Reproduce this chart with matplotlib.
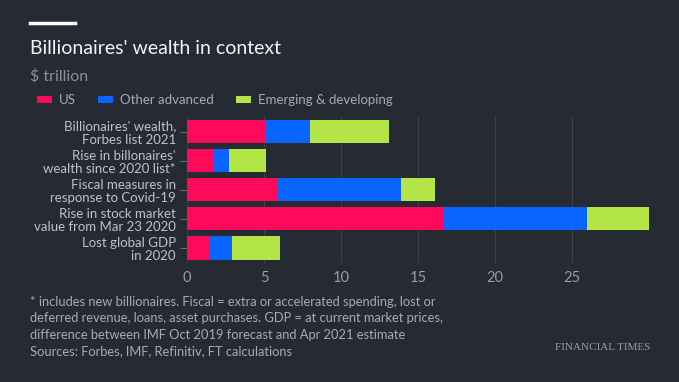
import matplotlib
matplotlib.use("Agg")
import matplotlib.pyplot as plt
import numpy as np

# data, $ trillion
categories = [
    "Billionaires' wealth,\nForbes list 2021",
    "Rise in billonaires'\nwealth since 2020 list*",
    "Fiscal measures in\nresponse to Covid-19",
    "Rise in stock market\nvalue from Mar 23 2020",
    "Lost global GDP\nin 2020",
]
us = [5.1, 1.7, 5.9, 16.7, 1.45]
other_advanced = [2.9, 1.05, 8.0, 9.3, 1.45]
emerging = [5.1, 2.4, 2.2, 4.0, 3.15]
series_names = ["US", "Other advanced", "Emerging & developing"]
xticks = [0, 5, 10, 15, 20, 25]

bg = "#262a33"
colors = ["#ff0a5a", "#0a64ff", "#b4e547"]
plt.rcParams["font.family"] = ["Lato", "DejaVu Sans"]

fig = plt.figure(figsize=(6.79, 3.82), dpi=100, facecolor=bg)
ax = fig.add_axes([187 / 679, 1 - 262.5 / 382, 462 / 679, 145.5 / 382])
ax.set_facecolor(bg)

y = np.arange(len(categories))
left = np.zeros(len(categories))
for vals, col, name in zip([us, other_advanced, emerging], colors, series_names):
    ax.barh(y, vals, left=left, height=0.8, color=col, label=name, zorder=3)
    left += np.array(vals)

ax.set_ylim(len(categories) - 0.5, -0.5)
ax.set_xlim(0, 30)
ax.set_yticks(y)
ax.set_yticklabels(categories, color="#bfc1c5", fontsize=9.5, linespacing=1.1)
ax.set_xticks(xticks)
ax.set_xticklabels([str(t) for t in xticks], color="#9a9ca1", fontsize=10.5)
ax.tick_params(axis="y", length=5, color="#6b6e75", width=0.8, pad=3)
ax.tick_params(axis="x", length=0, pad=6)
ax.grid(axis="x", color="#3d414a", linewidth=0.8, zorder=0)
for s in ax.spines.values():
    s.set_visible(False)

# header
fig.add_artist(plt.Line2D([30 / 679, 75 / 679], [1 - 23 / 382] * 2,
                          color="white", linewidth=2.5))
fig.text(30 / 679, 1 - 49 / 382, "Billionaires' wealth in context",
         color="#f4f4f4", fontsize=14, va="center")
fig.text(30 / 679, 1 - 76 / 382, "$ trillion", color="#8e9096",
         fontsize=11.5, va="center")
fig.legend(loc="center left", bbox_to_anchor=(25 / 679, 1 - 100 / 382),
           ncol=3, frameon=False, fontsize=9.5, labelcolor="#a9abb0",
           handlelength=1.15, handleheight=0.5, handletextpad=0.5,
           columnspacing=1.7)

# footer
footnote = ("* includes new billionaires. Fiscal = extra or accelerated spending, lost or\n"
            "deferred revenue, loans, asset purchases. GDP = at current market prices,\n"
            "difference between IMF Oct 2019 forecast and Apr 2021 estimate\n"
            "Sources: Forbes, IMF, Refinitiv, FT calculations")
fig.text(30 / 679, 1 - 296 / 382, footnote, color="#a9abb0", fontsize=9.3,
         va="top", linespacing=1.45)
fig.text(650 / 679, 1 - 347 / 382, "FINANCIAL TIMES", color="#9a9ca1",
         fontsize=8, family="Liberation Serif", ha="right", va="center")

fig.savefig("out.png", dpi=100, facecolor=bg)
